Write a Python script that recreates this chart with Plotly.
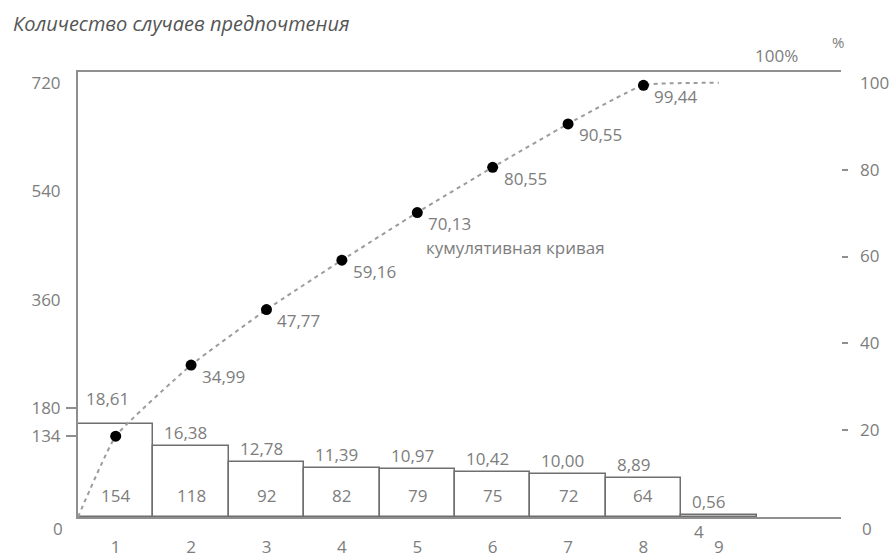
import plotly.graph_objects as go

# Pareto data: preference cases per cause
categories = [1, 2, 3, 4, 5, 6, 7, 8, 9]
cat_labels = ["1", "2", "3", "4", "5", "6", "7", "8", "9"]
counts = [154, 118, 92, 82, 79, 75, 72, 64, 4]
share_pct = [18.61, 16.38, 12.78, 11.39, 10.97, 10.42, 10.00, 8.89, 0.56]
cum_pct = [18.61, 34.99, 47.77, 59.16, 70.13, 80.55, 90.55, 99.44, 100.0]
cum_start_x, cum_start_y = 0.5, 0.0

left_ticks = [134, 180, 360, 540, 720]
right_ticks = [20, 40, 60, 80, 100]

GREY_TXT = "#7d7d7d"
GREY_LINE = "#8f8f8f"
FONT = "Open Sans"
FS = 17

def fmt(v):
    return f"{v:.2f}".replace(".", ",")

fig = go.Figure()

# bars (counts, left axis)
fig.add_trace(go.Bar(
    x=categories, y=counts, width=1.0,
    marker=dict(color="white", line=dict(color="#6f6f6f", width=1.5)),
    yaxis="y", hoverinfo="skip", showlegend=False,
))

# cumulative curve (percent, right axis)
fig.add_trace(go.Scatter(
    x=[cum_start_x] + categories, y=[cum_start_y] + cum_pct,
    mode="lines", line=dict(color="#9c9c9c", width=2, dash="4px,4px", shape="spline", smoothing=0.4),
    yaxis="y2", hoverinfo="skip", showlegend=False,
))
fig.add_trace(go.Scatter(
    x=categories[:-1], y=cum_pct[:-1], mode="markers",
    marker=dict(color="black", size=11),
    yaxis="y2", hoverinfo="skip", showlegend=False,
))

ann = []
# count labels inside bars (the tiny last bar gets its label underneath)
for c, n in zip(categories, counts):
    if n >= 20:
        ann.append(dict(x=c, y=0, xref="x", yref="y", text=str(n), showarrow=False,
                        yanchor="bottom", yshift=8, font=dict(size=FS, color=GREY_TXT)))
    else:
        ann.append(dict(x=c, y=0, xref="x", yref="y", text=str(n), showarrow=False,
                        yanchor="top", xshift=-20, yshift=-1, font=dict(size=FS, color=GREY_TXT)))

# share labels above bars
for c, n, p in zip(categories, counts, share_pct):
    ann.append(dict(x=c - 0.5, y=n, xref="x", yref="y", text=fmt(p), showarrow=False,
                    xanchor="left", yanchor="bottom", xshift=6 if c == 1 else 9,
                    yshift=12 if c == 1 else 0, font=dict(size=FS, color=GREY_TXT)))

# cumulative labels next to points (first one shares the bar label)
for c, p in zip(categories[1:-1], cum_pct[1:-1]):
    ann.append(dict(x=c, y=p, xref="x", yref="y2", text=fmt(p), showarrow=False,
                    xanchor="left", yanchor="middle", xshift=9, yshift=-11,
                    font=dict(size=FS, color=GREY_TXT)))

ann += [
    dict(x=6.3, y=62, xref="x", yref="y2", text="кумулятивная кривая", showarrow=False,
         xanchor="center", yanchor="middle", font=dict(size=17, color=GREY_TXT)),
    dict(x=9.76, y=1.038, xref="x", yref="paper", text="100%", showarrow=False,
         xanchor="center", yanchor="middle", font=dict(size=17, color=GREY_TXT)),
    dict(x=0.996, y=1.067, xref="paper", yref="paper", text="%", showarrow=False,
         xanchor="center", yanchor="middle", font=dict(size=15, color=GREY_TXT)),
    dict(x=0, y=0, xref="paper", yref="y", text="0", showarrow=False,
         xanchor="center", yanchor="middle", xshift=-20, yshift=-11,
         font=dict(size=FS, color=GREY_TXT)),
    dict(x=1, y=0, xref="paper", yref="y", text="0", showarrow=False,
         xanchor="center", yanchor="middle", xshift=26, yshift=-11,
         font=dict(size=FS, color=GREY_TXT)),
]

fig.update_layout(
    width=893, height=557,
    margin=dict(l=78, r=52, t=72, b=40, autoexpand=False),
    paper_bgcolor="white", plot_bgcolor="white",
    font=dict(family=FONT, color=GREY_TXT, size=FS),
    bargap=0,
    title=dict(text="<i>Количество случаев предпочтения</i>", x=13 / 893, xanchor="left",
               y=1 - 24 / 557, yanchor="middle",
               font=dict(family=FONT, size=20, color="#555555")),
    xaxis=dict(range=[0.5, 10.62], tickvals=categories, ticktext=cat_labels,
               showline=True, mirror=True, linecolor=GREY_LINE, linewidth=2,
               showgrid=False, zeroline=False, ticks="", ticklabelstandoff=14,
               automargin=False, tickfont=dict(size=FS, color=GREY_TXT)),
    yaxis=dict(range=[0, 738], tickvals=left_ticks, showline=True, linecolor=GREY_LINE,
               linewidth=2, showgrid=False, zeroline=False, ticks="", automargin=False,
               ticklabelstandoff=12, tickfont=dict(size=FS, color=GREY_TXT),
               minor=dict(tickvals=[134, 180], ticks="outside", ticklen=10,
                          tickcolor=GREY_LINE, tickwidth=1.5)),
    yaxis2=dict(range=[0, 102.5], overlaying="y", side="right", tickvals=right_ticks,
                showline=False, showgrid=False, zeroline=False, ticks="", automargin=False,
                ticklabelstandoff=18, tickfont=dict(size=FS, color=GREY_TXT),
                minor=dict(tickvals=[20, 40, 60, 80], ticks="outside", ticklen=6,
                           tickcolor=GREY_LINE, tickwidth=1.5)),
    annotations=ann,
)

fig.write_html("out.html")
